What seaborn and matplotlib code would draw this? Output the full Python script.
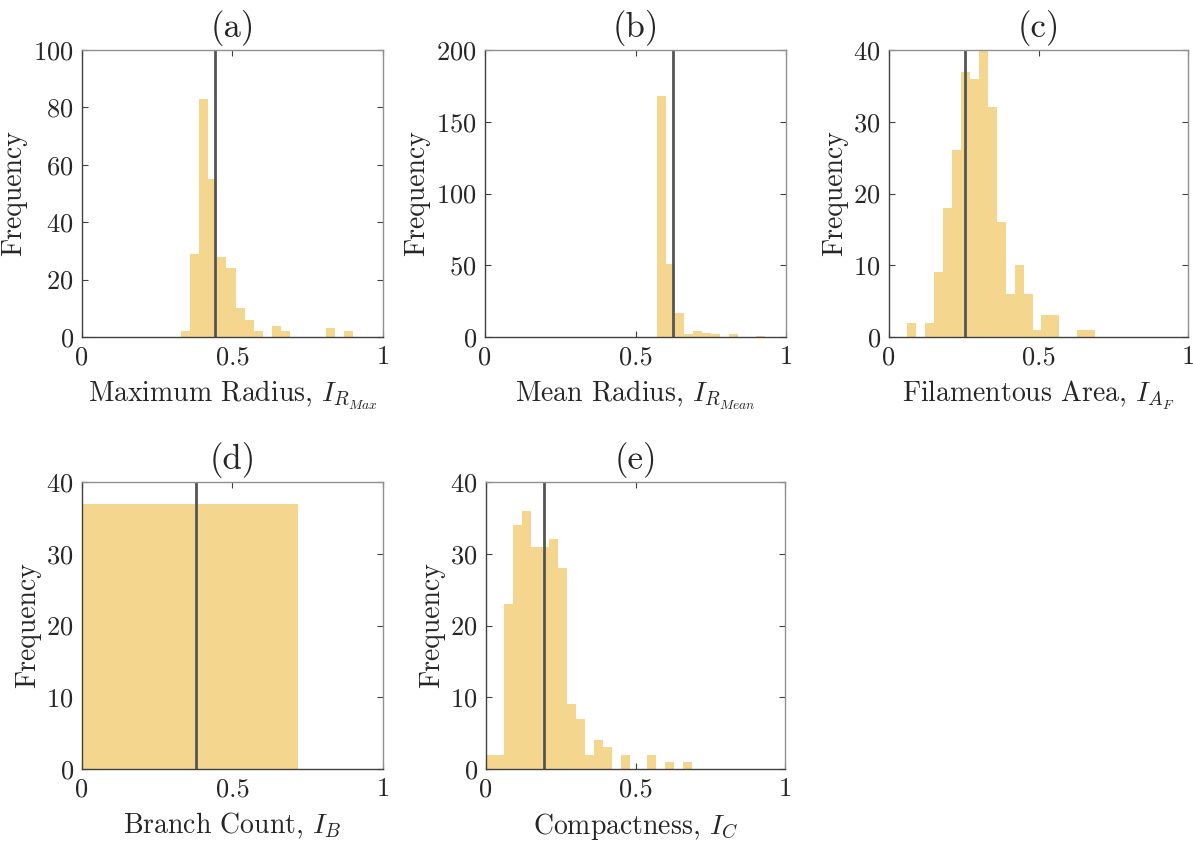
import numpy as np
import pandas as pd
import matplotlib
matplotlib.use("Agg")
import matplotlib.pyplot as plt
import seaborn as sns

# histogram counts (bin width 0.03 unless noted)
bin_width = 0.03
a_start = 0.33
a_counts = [2, 29, 83, 55, 28, 24, 10, 6, 2, 0, 4, 2, 0, 0, 0, 0, 3, 0, 2]
a_mean = 0.442

b_start = 0.57
b_counts = [168, 51, 17, 2, 4, 3, 2, 0, 2, 0, 0, 1]
b_mean = 0.624

c_start = 0.06
c_counts = [2, 0, 2, 9, 18, 26, 37, 36, 40, 32, 16, 6, 10, 6, 1, 3, 3, 0, 0, 1, 1]
c_mean = 0.254

d_edges = [0.0, 0.717]
d_counts = [37]
d_mean = 0.379

e_start = 0.0
e_counts = [2, 2, 23, 34, 36, 31, 31, 32, 28, 9, 7, 2, 4, 3, 0, 2, 0, 0, 2, 0, 1, 0, 1]
e_mean = 0.195

titles = ["(a)", "(b)", "(c)", "(d)", "(e)"]
xlabels = [r"Maximum Radius, $I_{R_{Max}}$", r"Mean Radius, $I_{R_{Mean}}$",
           r"Filamentous Area, $I_{A_F}$", r"Branch Count, $I_B$", r"Compactness, $I_C$"]
ylims = [100, 200, 40, 40, 40]
ysteps = [20, 50, 10, 10, 10]

bar_color = "#F5D68E"
line_color = "#555555"

sns.set_style("ticks")
plt.rcParams["font.family"] = ["cmr10", "DejaVu Serif"]
plt.rcParams["mathtext.fontset"] = "cm"
plt.rcParams["axes.formatter.use_mathtext"] = True
plt.rcParams["axes.unicode_minus"] = False


def edges_from(start, counts):
    return [start + bin_width * k for k in range(len(counts) + 1)]


panels = [
    (edges_from(a_start, a_counts), a_counts, a_mean),
    (edges_from(b_start, b_counts), b_counts, b_mean),
    (edges_from(c_start, c_counts), c_counts, c_mean),
    (list(d_edges), d_counts, d_mean),
    (edges_from(e_start, e_counts), e_counts, e_mean),
]

W, H = 1193, 843
boxes = [(82, 50, 301, 287), (485, 50, 301, 287), (889, 50, 299, 287),
         (82, 482, 301, 287), (486, 482, 299, 287)]

fig = plt.figure(figsize=(W / 100, H / 100), dpi=100)

for i, (edges, counts, mean) in enumerate(panels):
    x0, y0, w, h = boxes[i]
    ax = fig.add_axes([x0 / W, (H - y0 - h) / H, w / W, h / H])
    centers = [(edges[k] + edges[k + 1]) / 2 for k in range(len(counts))]
    df = pd.DataFrame({"x": centers, "n": counts})
    sns.histplot(data=df, x="x", weights="n", bins=edges, ax=ax,
                 color=bar_color, alpha=1, linewidth=0)
    ax.axvline(mean, color=line_color, lw=2)
    ax.set_xlim(0, 1)
    ax.set_ylim(0, ylims[i])
    ax.set_xticks([0, 0.5, 1])
    ax.set_xticklabels(["0", "0.5", "1"])
    ax.set_yticks(np.arange(0, ylims[i] + 1, ysteps[i]))
    ax.tick_params(direction="in", length=4, width=0.8, top=True, right=True,
                   labelsize=19, colors="#404040", labelcolor="#262626", pad=6)
    for s in ax.spines.values():
        s.set_color("#909090")
        s.set_linewidth(1.0)
    ax.spines["bottom"].set_color("#404040")
    ax.spines["left"].set_color("#404040")
    ax.set_xlabel(xlabels[i], fontsize=20, color="#262626", labelpad=7)
    ax.set_ylabel("Frequency", fontsize=20, color="#262626", labelpad=4)
    ax.set_title(titles[i], fontsize=25, color="#262626", pad=9)

fig.savefig("out.png", dpi=100)
